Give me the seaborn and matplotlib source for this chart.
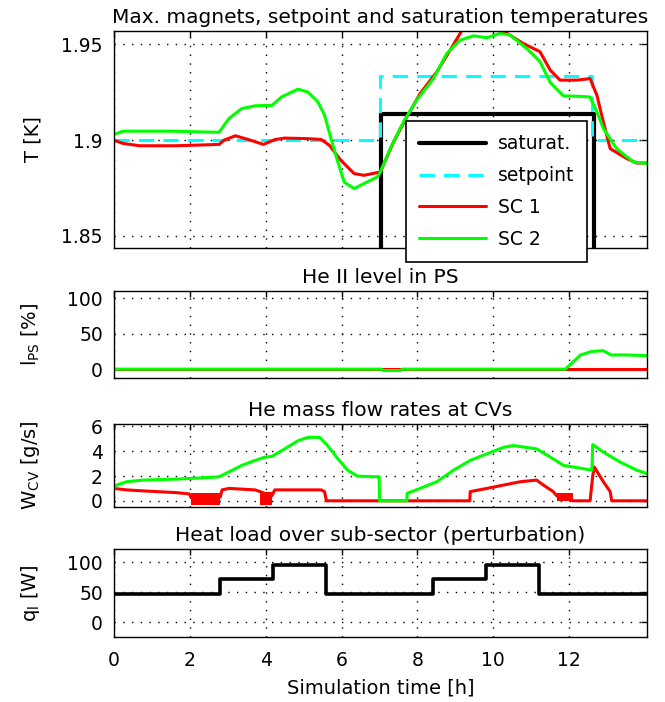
import matplotlib
matplotlib.use("Agg")
import matplotlib.pyplot as plt
import seaborn as sns

# --- max magnet temperatures [K] vs time [h] ---
sc1_t = [0, 0.24, 0.68, 1.63, 2.77, 2.9, 3.2, 3.55, 3.94, 4.24, 4.5, 5.11, 5.46, 5.68, 5.98, 6.33,
         6.59, 6.94, 7.02, 7.37, 7.72, 8.07, 8.51, 8.86, 9.2, 9.65, 10.0, 10.36, 10.79, 11.23, 11.5,
         11.76, 12.2, 12.55, 12.73, 12.9, 13.08, 13.52, 13.78, 14.05]
sc1_T = [1.8999, 1.8982, 1.897, 1.897, 1.8977, 1.8999, 1.9022, 1.9002, 1.8977, 1.9002, 1.901, 1.9007,
         1.9003, 1.8972, 1.8894, 1.8825, 1.8816, 1.883, 1.8833, 1.899, 1.912, 1.9242, 1.9355, 1.9468,
         1.958, 1.957, 1.958, 1.9556, 1.9503, 1.946, 1.9364, 1.9312, 1.9312, 1.932, 1.9233, 1.9094,
         1.8955, 1.8903, 1.888, 1.888]
sc2_t = [0, 0.24, 1.5, 2.77, 3.03, 3.37, 3.72, 3.97, 4.16, 4.42, 4.85, 5.11, 5.37, 5.55, 5.72, 5.9,
         6.07, 6.33, 6.59, 6.94, 7.02, 7.28, 7.63, 7.98, 8.42, 8.77, 9.12, 9.47, 9.83, 10.18, 10.44,
         10.88, 11.23, 11.5, 11.85, 12.2, 12.55, 12.73, 12.9, 13.25, 13.69, 14.05]
sc2_T = [1.9029, 1.9046, 1.9046, 1.904, 1.9112, 1.9164, 1.9178, 1.918, 1.918, 1.9225, 1.9265, 1.925,
         1.920, 1.913, 1.9008, 1.8886, 1.878, 1.8747, 1.8773, 1.8807, 1.8833, 1.8955, 1.9095, 1.9208,
         1.932, 1.945, 1.952, 1.9543, 1.9533, 1.9556, 1.9547, 1.9477, 1.9408, 1.930, 1.923, 1.9228,
         1.9224, 1.9147, 1.906, 1.8955, 1.8886, 1.8877]
setp_t = [0, 7.0, 12.6, 14.05]
setp_T = [1.9, 1.9335, 1.9, 1.9]
sat_t = [0, 7.05, 12.65, 14.05]
sat_T = [1.80, 1.9133, 1.80, 1.80]

# --- He II level in PS [%] ---
lps1_t = [0, 14.05]
lps1 = [0, 0]
lps2_t = [0, 7.05, 7.1, 7.55, 7.6, 11.9, 12.3, 12.6, 12.9, 13.1, 13.5, 14.05]
lps2 = [0, 0, -2, -2, 0, 0, 20, 25, 26, 20, 20, 19]

# --- He mass flow rates at CVs [g/s] ---
wcv1_t = [0, 0.33, 0.77, 1.63, 1.98, 2.03, 2.8, 2.85, 3.03, 3.72, 3.85, 4.16, 4.24, 5.46, 5.55, 5.6,
          9.38, 9.39, 9.83, 10.27, 10.71, 11.14, 11.32, 11.58, 11.67, 12.1, 12.55, 12.62, 12.66, 12.9,
          13.08, 13.12, 14.05]
wcv1 = [1.0, 0.88, 0.8, 0.66, 0.56, 0.3, 0.3, 0.88, 1.0, 0.88, 0.74, 0.4, 0.88, 0.88, 0.74, 0,
        0, 0.74, 1.0, 1.27, 1.54, 1.67, 1.27, 0.74, 0.4, 0, 0, 2.0, 2.73, 1.54, 0.74, 0, 0]
# chattering of the SC 1 valve (start, end, low, high)
band_t0 = [2.03, 3.85, 11.67]
band_t1 = [2.8, 4.16, 12.1]
band_lo = [-0.3, -0.3, 0.0]
band_hi = [0.6, 0.7, 0.6]
wcv2_t = [0, 0.07, 0.33, 0.77, 1.63, 2.5, 2.77, 3.03, 3.37, 3.72, 3.98, 4.16, 4.5, 4.85, 5.11, 5.42,
          5.63, 5.9, 6.16, 6.42, 6.85, 6.99, 7.0, 7.72, 7.73, 8.07, 8.51, 8.95, 9.39, 9.83, 10.27,
          10.53, 11.14, 11.5, 11.85, 12.2, 12.6, 12.62, 12.9, 13.34, 13.78, 14.05]
wcv2 = [1.0, 1.27, 1.54, 1.67, 1.75, 1.88, 1.94, 2.33, 2.86, 3.26, 3.53, 3.58, 4.19, 4.85, 5.12, 5.12,
        4.46, 3.4, 2.47, 1.99, 1.94, 1.94, 0, 0, 0.61, 1.0, 1.54, 2.47, 3.26, 3.79, 4.32, 4.46, 4.19,
        3.53, 2.86, 2.68, 2.47, 4.54, 3.93, 3.13, 2.47, 2.2]

# --- heat load perturbation [W] ---
ql_t = [0, 2.8, 4.2, 5.6, 8.4, 9.8, 11.2, 14.05]
ql = [47, 72, 95, 47, 72, 95, 47, 47]

xticks = [0, 2, 4, 6, 8, 10, 12]

sns.set_style("white", {"xtick.direction": "in", "ytick.direction": "in",
                        "axes.edgecolor": "black", "text.color": "black",
                        "axes.labelcolor": "black", "xtick.color": "black",
                        "ytick.color": "black"})
plt.rcParams['font.family'] = ['DejaVu Sans']
plt.rcParams['font.size'] = 13

fig = plt.figure(figsize=(6.65, 7.02), dpi=100)
L, W = 0.1714, 0.8015
ax1 = fig.add_axes([L, 0.6467, W, 0.3091])
ax2 = fig.add_axes([L, 0.4615, W, 0.1239])
ax3 = fig.add_axes([L, 0.2778, W, 0.1182])
ax4 = fig.add_axes([L, 0.0926, W, 0.1254])

RED, GREEN, CYAN = "#ff0000", "#00ff00", "#00ffff"
lw = 2.2
TFS = 14.5

# top: temperatures
sns.lineplot(x=sat_t, y=sat_T, ax=ax1, color="black", linewidth=3.0, drawstyle="steps-post",
             estimator=None, label="saturat.")
sns.lineplot(x=setp_t, y=setp_T, ax=ax1, color=CYAN, linewidth=lw, drawstyle="steps-post",
             estimator=None, label="setpoint")
ax1.lines[-1].set_dashes([5, 3])
sns.lineplot(x=sc1_t, y=sc1_T, ax=ax1, color=RED, linewidth=lw, estimator=None, label="SC 1")
sns.lineplot(x=sc2_t, y=sc2_T, ax=ax1, color=GREEN, linewidth=lw, estimator=None, label="SC 2")
ax1.set_ylim(1.8437, 1.9568)
ax1.set_yticks([1.85, 1.9, 1.95])
ax1.set_yticklabels(["1.85", "1.9", "1.95"])
ax1.set_title("Max. magnets, setpoint and saturation temperatures", pad=6, fontsize=TFS)
ax1.set_ylabel("T [K]", fontsize=14)
leg = ax1.legend(loc="upper left", bbox_to_anchor=(0.53, 0.627), fancybox=False, framealpha=1,
                 edgecolor="black", handlelength=3.6, handletextpad=0.6, labelspacing=0.68,
                 borderpad=0.7, fontsize=13.5)
leg.get_frame().set_linewidth(1.2)

# He II level
sns.lineplot(x=lps1_t, y=lps1, ax=ax2, color=RED, linewidth=lw, estimator=None)
sns.lineplot(x=lps2_t, y=lps2, ax=ax2, color=GREEN, linewidth=lw, estimator=None)
ax2.set_ylim(-12.5, 110)
ax2.set_yticks([0, 50, 100])
ax2.set_title("He II level in PS", pad=6, fontsize=TFS)
ax2.set_ylabel(r"l$_\mathregular{PS}$ [%]", fontsize=14)

# mass flows
for a, b, lo, hi in zip(band_t0, band_t1, band_lo, band_hi):
    ax3.fill_between([a, b], [lo, lo], [hi, hi], color=RED, linewidth=0)
sns.lineplot(x=wcv1_t, y=wcv1, ax=ax3, color=RED, linewidth=lw, estimator=None)
sns.lineplot(x=wcv2_t, y=wcv2, ax=ax3, color=GREEN, linewidth=lw, estimator=None)
ax3.set_ylim(-0.5, 6.2)
ax3.set_yticks([0, 2, 4, 6])
ax3.set_title("He mass flow rates at CVs", pad=6, fontsize=TFS)
ax3.set_ylabel(r"W$_\mathregular{CV}$ [g/s]", fontsize=14)

# heat load
sns.lineplot(x=ql_t, y=ql, ax=ax4, color="black", linewidth=2.6, drawstyle="steps-post",
             estimator=None)
ax4.set_ylim(-25, 122)
ax4.set_yticks([0, 50, 100])
ax4.set_title("Heat load over sub-sector (perturbation)", pad=6, fontsize=TFS)
ax4.set_ylabel(r"q$_\mathregular{l}$ [W]", fontsize=14)
ax4.set_xlabel("Simulation time [h]", labelpad=6, fontsize=14)

for ax in (ax1, ax2, ax3, ax4):
    ax.set_xlim(0, 14.05)
    ax.set_xticks(xticks)
    ax.grid(True, color="black", linestyle=(0, (1, 5.3)), linewidth=1.0)
    ax.tick_params(top=True, right=True, direction="in", width=1.0, length=4, pad=8,
                   labelsize=13.5)
    ax.tick_params(axis="x", pad=10)
    for s in ax.spines.values():
        s.set_linewidth(1.0)
        s.set_color("black")
    ax.yaxis.set_label_coords(-0.135, 0.5)
    if ax is not ax4:
        ax.tick_params(labelbottom=False)
        ax.set_xlabel("")

fig.savefig("out.png", dpi=100)
